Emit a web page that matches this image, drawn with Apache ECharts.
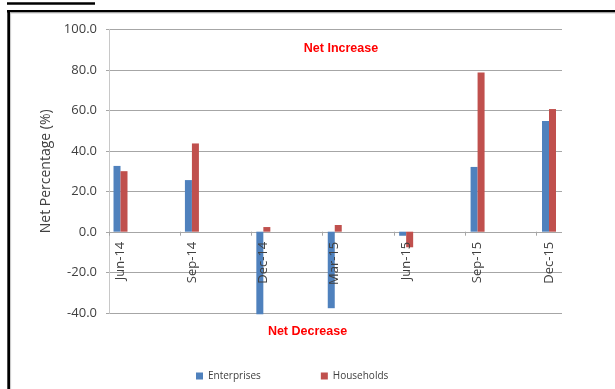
<!DOCTYPE html>
<html>
<head>
<meta charset="utf-8">
<script src="https://cdn.jsdelivr.net/npm/echarts@6/dist/echarts.min.js"></script>
<style>
html,body{margin:0;padding:0;background:#fff;}
#c{width:615px;height:389px;}
</style>
</head>
<body>
<div id="c"></div>
<script>
const categories = ['Jun-14', 'Sep-14', 'Dec-14', 'Mar-15', 'Jun-15', 'Sep-15', 'Dec-15'];
const enterprises = [32.5, 25.5, -40.8, -37.8, -2.0, 32.0, 54.7];
const households = [29.9, 43.6, 2.3, 3.3, -7.7, 78.7, 60.6];
const seriesNames = ['Enterprises', 'Households'];
const yMin = -40, yMax = 100, yStep = 20;
const yAxisTitle = 'Net Percentage (%)';
const noteUp = 'Net Increase';
const noteDown = 'Net Decrease';

const chart = echarts.init(document.getElementById('c'), null, {renderer: 'canvas'});
const txt = '#404040';
const font = 'Open Sans';
const gridTop = 29.3, gridBottom = 75.7, zeroBottom = 157.3;

chart.setOption({
  animation: false,
  backgroundColor: '#fff',
  grid: [
    // bars: plot area from the top down to the zero line (positive range)
    {left: 84.8, right: 30.3, top: gridTop, bottom: zeroBottom},
    {left: 109, right: 53, top: gridTop, bottom: gridBottom},
    {left: 109, width: 427.2, top: gridTop, bottom: zeroBottom}
  ],
  xAxis: [
    {
      type: 'category', gridIndex: 0, data: categories, z: 10,
      axisLine: {show: false, onZero: false},
      axisTick: {show: false},
      axisLabel: {rotate: 90, margin: 10, fontSize: 13, color: txt, fontFamily: font}
    },
    {type: 'value', gridIndex: 1, min: 0, max: 1, show: false},
    {
      type: 'category', gridIndex: 2, data: categories.slice(0, 6),
      axisLine: {show: false, onZero: false},
      axisTick: {show: true, length: 4, lineStyle: {color: '#A6A6A6'}},
      axisLabel: {show: false}
    }
  ],
  yAxis: [
    {type: 'value', gridIndex: 0, min: 0, max: yMax, show: false},
    {
      type: 'value', gridIndex: 1, min: yMin, max: yMax, interval: yStep,
      name: yAxisTitle, nameLocation: 'middle', nameGap: 53,
      nameTextStyle: {fontSize: 14, color: txt, fontFamily: font},
      axisLine: {show: true, lineStyle: {color: '#C8C8C8', width: 1}},
      axisTick: {show: true, length: 3, lineStyle: {color: '#A6A6A6'}},
      splitLine: {show: true, lineStyle: {color: '#A6A6A6', width: 1}},
      axisLabel: {fontSize: 13, color: txt, fontFamily: font, margin: 12,
        formatter: v => v.toFixed(1)}
    },
    {type: 'value', gridIndex: 2, min: 0, max: 1, show: false}
  ],
  legend: {
    data: seriesNames, left: 191, top: 366, icon: 'rect',
    itemWidth: 7, itemHeight: 7, itemGap: 60,
    textStyle: {fontSize: 10, color: txt, fontFamily: font}
  },
  series: [
    {name: seriesNames[0], type: 'bar', xAxisIndex: 0, yAxisIndex: 0, clip: false,
     data: enterprises, barWidth: 7, barGap: '0%', itemStyle: {color: '#4F81BD'}},
    {name: seriesNames[1], type: 'bar', xAxisIndex: 0, yAxisIndex: 0, clip: false,
     data: households, barWidth: 7, barGap: '0%', itemStyle: {color: '#C0504D'}}
  ],
  graphic: [
    {type: 'rect', shape: {x: 7, y: 2.3, width: 88, height: 2.5}, style: {fill: '#000'}},
    {type: 'rect', shape: {x: 7, y: 10, width: 620, height: 2.5}, style: {fill: '#000'}},
    {type: 'rect', shape: {x: 7.3, y: 10, width: 2.8, height: 400}, style: {fill: '#000'}},
    {type: 'rect', shape: {x: 10.1, y: 12.5, width: 1, height: 400}, style: {fill: '#C8C8C8'}},
    {type: 'rect', shape: {x: 10.1, y: 12.5, width: 620, height: 1}, style: {fill: '#C8C8C8'}},
    {type: 'text', x: 341, y: 48.3, style: {text: noteUp, fill: '#FF0000',
      font: 'bold 12.5px "Liberation Sans"', textAlign: 'center', textVerticalAlign: 'middle'}},
    {type: 'text', x: 307.5, y: 331.7, style: {text: noteDown, fill: '#FF0000',
      font: 'bold 12.5px "Liberation Sans"', textAlign: 'center', textVerticalAlign: 'middle'}}
  ]
});
</script>
</body>
</html>
